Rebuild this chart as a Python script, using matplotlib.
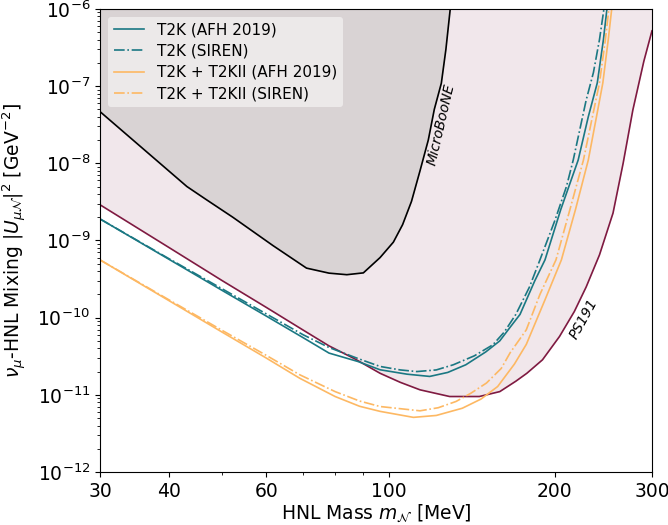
import numpy as np
import matplotlib
matplotlib.use('Agg')
import matplotlib.pyplot as plt
from matplotlib.ticker import NullFormatter

# PS191 limit
ps191_m = [30, 40, 50, 60, 70, 78, 87, 96.5, 105, 114, 129, 146, 159, 170, 178, 190,
           204, 217, 228, 241, 255, 266, 277, 290, 300]
ps191_u = [2.9e-9, 8.1e-10, 3.0e-10, 1.36e-10, 6.9e-11, 4.3e-11, 2.9e-11, 1.9e-11, 1.45e-11,
           1.16e-11, 9.5e-12, 9.5e-12, 1.1e-11, 1.5e-11, 1.9e-11, 2.84e-11,
           5.7e-11, 1.2e-10, 2.5e-10, 6.5e-10, 2.26e-9, 1.0e-8, 4.9e-8, 2.1e-7, 5.2e-7]

# MicroBooNE limit
uboone_m = [30, 43.1, 46.6, 52.2, 61.7, 71, 78, 84, 90, 96.5, 102, 106, 110, 114, 118,
            121, 124.6, 127, 129.5]
uboone_u = [4.67e-8, 5.0e-9, 3.43e-9, 2.0e-9, 8.6e-10, 4.38e-10, 3.77e-10, 3.6e-10, 3.8e-10,
            6e-10, 9.5e-10, 1.6e-9, 3.2e-9, 8e-9, 2e-8, 5e-8, 1.09e-7, 3e-7, 1.1e-6]

# T2K (AFH 2019)
t2k_afh_m = [30, 40, 50, 60, 70, 78, 88, 96.5, 108, 118.7, 128, 138, 150, 159, 166, 173,
             184, 192, 205, 220.5, 230, 238.8, 245, 249]
t2k_afh_u = [1.9e-9, 5.7e-10, 2.24e-10, 1.05e-10, 5.5e-11, 3.47e-11, 2.7e-11, 2.11e-11,
             1.85e-11, 1.73e-11, 1.95e-11, 2.45e-11, 3.6e-11, 5.0e-11, 7.5e-11, 1.1e-10,
             3.0e-10, 5.6e-10, 2.5e-9, 1.1e-8, 4e-8, 1.1e-7, 4e-7, 1.1e-6]

# T2K (SIREN)
t2k_siren_m = [30, 40, 50, 60, 70, 78, 88, 96.5, 105, 112.5, 122, 131, 143, 154.5, 162,
               170, 180, 188, 200, 210, 216, 228, 235, 241, 246]
t2k_siren_u = [1.9e-9, 5.8e-10, 2.35e-10, 1.12e-10, 6.0e-11, 4.1e-11, 2.95e-11, 2.33e-11,
               2.1e-11, 2.0e-11, 2.1e-11, 2.45e-11, 3.2e-11, 4.45e-11, 6.5e-11,
               1.1e-10, 2.5e-10, 5.6e-10, 1.8e-9, 5e-9, 1.1e-8, 6.6e-8, 1.5e-7, 4e-7, 1.1e-6]

# T2K + T2KII (AFH 2019)
t2kii_afh_m = [30, 40, 50, 60, 69, 80, 88.6, 96.5, 110.9, 122, 136, 147, 157.6, 169, 177.6,
               192, 205.6, 218, 230, 238, 244.4, 250, 254]
t2kii_afh_u = [5.6e-10, 1.66e-10, 6.45e-11, 3.0e-11, 1.64e-11, 9.5e-12, 7.1e-12, 6.1e-12,
               5.1e-12, 5.4e-12, 6.7e-12, 8.8e-12, 1.28e-11, 2.5e-11, 4.5e-11,
               1.7e-10, 5.6e-10, 2.5e-9, 1.1e-8, 4e-8, 1.1e-7, 4e-7, 1.1e-6]

# T2K + T2KII (SIREN)
t2kii_siren_m = [30, 40, 50, 60, 69, 80, 88.6, 96.5, 114, 123, 132.5, 141, 150.4, 160, 166,
                 177.6, 188, 201, 213, 225.4, 234, 241, 247, 251]
t2kii_siren_u = [5.6e-10, 1.7e-10, 6.8e-11, 3.25e-11, 1.82e-11, 1.1e-11, 8.3e-12, 7.05e-12,
                 6.2e-12, 6.8e-12, 8.2e-12, 1.05e-11, 1.42e-11, 2.2e-11, 3.5e-11,
                 6.95e-11, 2e-10, 5.6e-10, 2.5e-9, 1.1e-8, 4e-8, 1.1e-7, 4e-7, 1.1e-6]

teal = '#1b7883'
orange = '#fdb863'
wine = '#7f1a41'

fig = plt.figure(figsize=(6.68, 5.25), dpi=100)
ax = fig.add_axes([0.1497, 0.101, 0.8263, 0.882])

ax.fill_between(ps191_m, ps191_u, 1e-6, color='#f1e7eb', lw=0)
ax.plot(ps191_m, ps191_u, color=wine, lw=1.2)
ax.fill_between(uboone_m, uboone_u, 1e-6, color='#d9d3d4', lw=0)
ax.plot(uboone_m, uboone_u, color='black', lw=1.2)

ax.plot(t2k_afh_m, t2k_afh_u, color=teal, lw=1.2, label='T2K (AFH 2019)')
ax.plot(t2k_siren_m, t2k_siren_u, color=teal, lw=1.2, ls='-.', label='T2K (SIREN)')
ax.plot(t2kii_afh_m, t2kii_afh_u, color=orange, lw=1.2, label='T2K + T2KII (AFH 2019)')
ax.plot(t2kii_siren_m, t2kii_siren_u, color=orange, lw=1.2, ls='-.',
        label='T2K + T2KII (SIREN)')

ax.text(124.5, 3.2e-8, 'MicroBooNE', rotation=77, style='italic', fontsize=10,
        ha='center', va='center')
ax.text(226, 9.5e-11, 'PS191', rotation=61, style='italic', fontsize=10,
        ha='center', va='center')

ax.set_xscale('log')
ax.set_yscale('log')
ax.set_xlim(30, 300)
ax.set_ylim(1e-12, 1e-6)
ax.set_xticks([30, 40, 60, 100, 200, 300])
ax.set_xticklabels(['30', '40', '60', '100', '200', '300'])
ax.xaxis.set_minor_formatter(NullFormatter())
ax.tick_params(labelsize=13.5)

ax.set_xlabel(r'HNL Mass $m_{\mathcal{N}}$ [MeV]', fontsize=13.5, labelpad=1)
ax.set_ylabel(r'$\nu_\mu$-HNL Mixing $|U_{\mu\mathcal{N}}|^2$ [GeV$^{-2}$]', fontsize=13.5,
              labelpad=6)

ax.legend(loc='upper left', fontsize=11, framealpha=0.5, edgecolor='none',
          labelspacing=0.4)

fig.savefig('out.png', dpi=100)
